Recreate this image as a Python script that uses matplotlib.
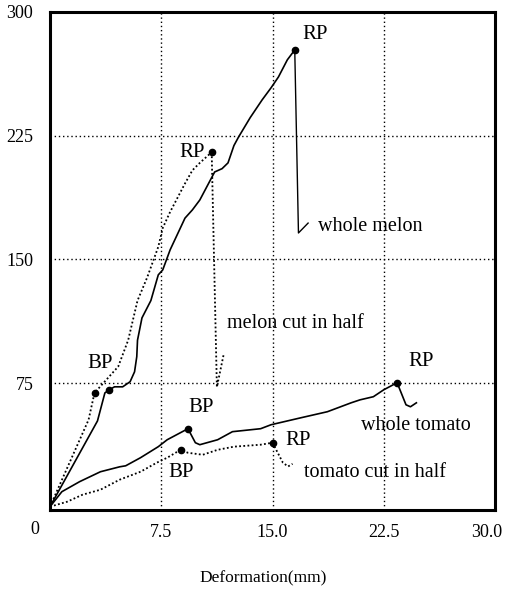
import matplotlib
matplotlib.use("Agg")
import matplotlib.pyplot as plt
from matplotlib.transforms import ScaledTranslation

# deformation (mm) / force readings
melon_x = [0, 3.2, 3.7, 4.0, 4.35, 4.9, 5.4, 5.7, 5.85, 5.9, 6.2, 6.8, 7.3, 7.6, 8.1, 9.1,
           9.6, 10.1, 11.1, 11.6, 12.0, 12.4, 12.7, 13.5, 14.3, 14.9, 15.4, 16.0, 16.5]
melon_y = [0, 52, 69, 71, 72.7, 72.7, 75.8, 81.8, 91, 101, 114.5, 125, 140.6, 143.6, 155.8, 175,
           180, 186, 203, 205, 208.5, 219, 224, 236, 246.7, 254, 260.6, 271, 277]
melon_drop_x = [16.5, 16.75, 17.4]
melon_drop_y = [277, 166, 172]

half_melon_x = [0, 2.6, 3.0, 3.6, 4.6, 5.27, 5.9, 6.55, 7.3, 7.6, 8.1, 9.1, 9.6, 10.1, 10.9]
half_melon_y = [0, 52.7, 69, 75, 85, 101, 125, 139, 157.6, 169, 178.8, 196, 204, 208.5, 215]
half_melon_drop_x = [10.9, 11.25, 11.7]
half_melon_drop_y = [215, 72.5, 92]

tomato_x = [0, 0.8, 2.0, 3.4, 4.7, 5.1, 6.1, 7.3, 7.9, 9.3, 9.8, 10.1, 11.3, 12.3, 14.2,
            14.9, 16.9, 18.7, 20.3, 20.9, 21.8, 22.5, 23.4]
tomato_y = [0, 9.1, 15.2, 21.2, 24.2, 24.8, 29.7, 36.4, 40.6, 47.3, 38.8, 37.6, 40.6, 45.5, 47.3,
            49.7, 53.9, 57.6, 63, 64.8, 66.7, 70.9, 75.2]
tomato_drop_x = [23.4, 24.0, 24.3, 24.7]
tomato_drop_y = [75.2, 61.8, 60.6, 63]

half_tomato_x = [0, 1.15, 2.2, 3.4, 4.7, 6.1, 7.2, 7.9, 8.8, 9.3, 10.3, 11.3, 12.4, 14.2, 15.0]
half_tomato_y = [0, 3, 7.3, 10.3, 16.4, 21.2, 26.7, 29.7, 34.5, 32.7, 31.5, 34.5, 36.4, 37.6, 38.8]
half_tomato_drop_x = [15.0, 15.7, 16.05, 16.35]
half_tomato_drop_y = [38.8, 26.7, 24.4, 26]

# break points (BP) and rupture points (RP)
bp_x = [3.0, 4.0, 9.3, 8.8]
bp_y = [69, 71, 47.3, 34.5]
rp_x = [16.5, 10.9, 23.4, 15.0]
rp_y = [277, 215, 75.2, 38.8]

x_ticks = [7.5, 15.0, 22.5, 30.0]
y_ticks = [75, 150, 225, 300]

plt.rcParams["font.family"] = ["Liberation Serif", "DejaVu Serif"]

fig = plt.figure(figsize=(5.09, 5.96), dpi=100)
ax = fig.add_axes([50 / 509, 86 / 596, 445 / 509, 498 / 596])

solid = dict(color="black", lw=1.2)
dotted = dict(color="black", lw=1.3, linestyle=(0, (1, 1.3)))

ax.plot(melon_x, melon_y, **solid)
ax.plot(melon_drop_x, melon_drop_y, color="black", lw=1.0)
ax.plot(half_melon_x, half_melon_y, **dotted)
ax.plot(half_melon_drop_x, half_melon_drop_y, **dotted)
ax.plot(tomato_x, tomato_y, **solid)
ax.plot(tomato_drop_x, tomato_drop_y, **solid)
ax.plot(half_tomato_x, half_tomato_y, **dotted)
ax.plot(half_tomato_drop_x, half_tomato_drop_y, **dotted)

ax.plot(bp_x, bp_y, "o", color="black", ms=4.5, ls="none")
ax.plot(rp_x, rp_y, "o", color="black", ms=4.5, ls="none")

lab = dict(fontsize=15, ha="center", va="center")
ax.text(3.4, 87, "BP", **lab)
ax.text(10.2, 60, "BP", **lab)
ax.text(8.85, 21, "BP", **lab)
ax.text(17.9, 286.5, "RP", **lab)
ax.text(9.6, 214.5, "RP", **lab)
ax.text(25.0, 88, "RP", **lab)
ax.text(16.75, 40, "RP", **lab)

cap = dict(fontsize=14.5, ha="left", va="center")
ax.text(18.1, 170, "whole melon", **cap)
ax.text(11.96, 111.4, "melon cut in half", **cap)
ax.text(20.95, 49.5, "whole tomato", **cap)
ax.text(17.1, 21, "tomato cut in half", **cap)

ax.set_xlim(0, 30)
ax.set_ylim(-2, 300)
ax.set_xticks(x_ticks)
ax.set_xticklabels([f"{t:.1f}" for t in x_ticks])
ax.set_yticks(y_ticks)
ax.set_yticklabels([str(t) for t in y_ticks])
ax.tick_params(axis="x", length=0, pad=10, labelsize=13)
ax.tick_params(axis="y", length=0, pad=12, labelsize=13)
last = ax.get_xticklabels()[-1]
last.set_transform(last.get_transform() + ScaledTranslation(-8 / 100, 0, fig.dpi_scale_trans))
ax.text(-0.034, -0.04, "0", transform=ax.transAxes, fontsize=13, ha="center", va="center")

ax.grid(True, color="black", lw=1.0, linestyle=(0, (1, 2)))
for side in ["left", "bottom", "right", "top"]:
    ax.spines[side].set_linewidth(2.2)

fig.text(263 / 509, 1 - 578 / 596, "Deformation(mm)", fontsize=12.5, ha="center", va="center")

fig.savefig("out.png", dpi=100)
